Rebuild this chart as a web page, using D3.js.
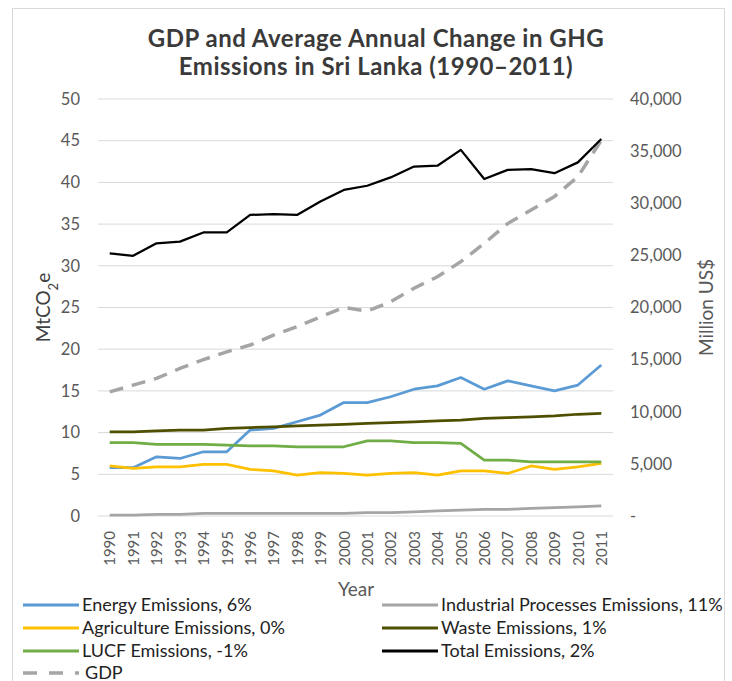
<!DOCTYPE html>
<html lang="en">
<head>
    <meta charset="UTF-8">
    <title>GDP and GHG Emissions in Sri Lanka</title>
    <script src="https://cdnjs.cloudflare.com/ajax/libs/d3/7.8.5/d3.min.js"></script>
    <style>
        body { margin: 0; background: #fff; }
        svg text { font-family: Lato, "Open Sans", sans-serif; }
    </style>
</head>
<body>
    <div id="chart"></div>
    <script>
        // data
        const years = ['1990','1991','1992','1993','1994','1995','1996','1997','1998','1999','2000',
                       '2001','2002','2003','2004','2005','2006','2007','2008','2009','2010','2011'];
        const energy = [5.8,5.8,7.1,6.9,7.7,7.7,10.3,10.5,11.3,12.1,13.6,13.6,14.3,15.2,15.6,16.6,15.2,16.2,15.6,15.0,15.7,18.1];
        const industrial = [0.1,0.1,0.2,0.2,0.3,0.3,0.3,0.3,0.3,0.3,0.3,0.4,0.4,0.5,0.6,0.7,0.8,0.8,0.9,1.0,1.1,1.2];
        const agriculture = [6.0,5.7,5.9,5.9,6.2,6.2,5.6,5.4,4.9,5.2,5.1,4.9,5.1,5.2,4.9,5.4,5.4,5.1,6.0,5.6,5.9,6.3];
        const waste = [10.1,10.1,10.2,10.3,10.3,10.5,10.6,10.7,10.8,10.9,11.0,11.1,11.2,11.3,11.4,11.5,11.7,11.8,11.9,12.0,12.2,12.3];
        const lucf = [8.8,8.8,8.6,8.6,8.6,8.5,8.4,8.4,8.3,8.3,8.3,9.0,9.0,8.8,8.8,8.7,6.7,6.7,6.5,6.5,6.5,6.5];
        const total = [31.5,31.2,32.7,32.9,34.0,34.0,36.1,36.2,36.1,37.7,39.1,39.6,40.6,41.9,42.0,43.9,40.4,41.5,41.6,41.1,42.4,45.2];
        const gdp = [11900,12550,13200,14150,15000,15750,16400,17350,18150,19100,20000,19650,20550,21850,22950,24400,26150,28050,29350,30650,32550,36050];

        const leftTicks = [0,5,10,15,20,25,30,35,40,45,50];
        const rightTicks = [0,5000,10000,15000,20000,25000,30000,35000,40000];

        const series = [
            { name: 'Energy Emissions, 6%', values: energy, color: '#5b9bd5' },
            { name: 'Industrial Processes Emissions, 11%', values: industrial, color: '#a5a5a5' },
            { name: 'Agriculture Emissions, 0%', values: agriculture, color: '#ffc000' },
            { name: 'Waste Emissions, 1%', values: waste, color: '#4f4f00' },
            { name: 'LUCF Emissions, -1%', values: lucf, color: '#70ad47' },
            { name: 'Total Emissions, 2%', values: total, color: '#000000' }
        ];

        const width = 732, height = 681;
        const plot = { left: 98, right: 613, top: 99, bottom: 516 };

        const svg = d3.select('#chart').append('svg')
            .attr('width', width)
            .attr('height', height);

        // outer frame
        svg.append('rect')
            .attr('x', 12.5).attr('y', 8.5)
            .attr('width', 712).attr('height', 690)
            .attr('fill', 'none')
            .attr('stroke', '#d9d9d9');

        const x = d3.scalePoint()
            .domain(years)
            .range([plot.left, plot.right])
            .padding(0.5);

        const y = d3.scaleLinear().domain([0, 50]).range([plot.bottom, plot.top]);
        const y2 = d3.scaleLinear().domain([0, 40000]).range([plot.bottom, plot.top]);

        // gridlines
        svg.append('g')
            .selectAll('line')
            .data(leftTicks)
            .enter().append('line')
            .attr('x1', plot.left).attr('x2', plot.right)
            .attr('y1', d => y(d)).attr('y2', d => y(d))
            .attr('stroke', '#d9d9d9')
            .attr('stroke-width', 1);

        // left axis
        const leftAxis = svg.append('g')
            .attr('transform', `translate(${plot.left - 18},0)`)
            .call(d3.axisLeft(y).tickValues(leftTicks).tickSize(0).tickPadding(0));
        leftAxis.select('.domain').remove();
        leftAxis.selectAll('text')
            .attr('fill', '#595959')
            .attr('font-size', 16.5);

        // right axis
        const rightAxis = svg.append('g')
            .attr('transform', `translate(${plot.right + 17},0)`)
            .call(d3.axisRight(y2).tickValues(rightTicks).tickSize(0).tickPadding(0)
                .tickFormat(d => d === 0 ? '-' : d3.format(',')(d)));
        rightAxis.select('.domain').remove();
        rightAxis.selectAll('text')
            .attr('fill', '#595959')
            .attr('font-size', 16.5);

        // x axis, rotated year labels
        const xAxis = svg.append('g')
            .attr('transform', `translate(0,${plot.bottom + 15})`)
            .call(d3.axisBottom(x).tickSize(0).tickPadding(0));
        xAxis.select('.domain').remove();
        xAxis.selectAll('text')
            .attr('fill', '#595959')
            .attr('font-size', 15)
            .attr('transform', 'rotate(-90)')
            .attr('dy', '0.35em')
            .attr('x', 0).attr('y', 0)
            .style('text-anchor', 'end');

        // axis titles
        svg.append('text')
            .attr('transform', `translate(50,${(plot.top + plot.bottom) / 2}) rotate(-90)`)
            .attr('text-anchor', 'middle')
            .attr('font-size', 19)
            .attr('fill', '#404040')
            .html('MtCO<tspan baseline-shift="sub" font-size="13">2</tspan>e');

        svg.append('text')
            .attr('transform', `translate(713,${(plot.top + plot.bottom) / 2}) rotate(-90)`)
            .attr('text-anchor', 'middle')
            .attr('font-size', 19)
            .attr('fill', '#595959')
            .text('Million US$');

        svg.append('text')
            .attr('x', 356).attr('y', 596)
            .attr('text-anchor', 'middle')
            .attr('font-size', 19)
            .attr('fill', '#595959')
            .text('Year');

        // title
        const title = svg.append('text')
            .attr('text-anchor', 'middle')
            .attr('font-size', 24)
            .attr('font-weight', 'bold')
            .attr('letter-spacing', 0.5)
            .attr('fill', '#3a3a3a');
        title.append('tspan').attr('x', 376).attr('y', 47).text('GDP and Average Annual Change in GHG');
        title.append('tspan').attr('x', 376).attr('y', 75).text('Emissions in Sri Lanka (1990–2011)');

        // lines
        const line = d3.line()
            .x((d, i) => x(years[i]))
            .y(d => y(d));

        const gdpLine = d3.line()
            .x((d, i) => x(years[i]))
            .y(d => y2(d));

        svg.append('path')
            .datum(gdp)
            .attr('d', gdpLine)
            .attr('fill', 'none')
            .attr('stroke', '#a5a5a5')
            .attr('stroke-width', 3.5)
            .attr('stroke-dasharray', '14,9');

        series.forEach(s => {
            svg.append('path')
                .datum(s.values)
                .attr('d', line)
                .attr('fill', 'none')
                .attr('stroke', s.color)
                .attr('stroke-width', s.name.startsWith('Total') ? 2.25 : 2.75)
                .attr('stroke-linejoin', 'round');
        });

        // legend
        const legendItems = [
            { s: series[0], col: 0, row: 0 },
            { s: series[1], col: 1, row: 0 },
            { s: series[2], col: 0, row: 1 },
            { s: series[3], col: 1, row: 1 },
            { s: series[4], col: 0, row: 2 },
            { s: series[5], col: 1, row: 2 }
        ];
        const colX = [23, 382];
        const rowY = [605, 628, 651, 673];

        const legend = svg.append('g');
        legendItems.forEach(item => {
            const g = legend.append('g')
                .attr('transform', `translate(${colX[item.col]},${rowY[item.row]})`);
            g.append('line')
                .attr('x1', 0).attr('x2', 56)
                .attr('stroke', item.s.color)
                .attr('stroke-width', 3);
            g.append('text')
                .attr('x', 59).attr('dy', '0.35em')
                .attr('font-size', 18)
                .attr('fill', '#222')
                .text(item.s.name);
        });
        const gdpLeg = legend.append('g')
            .attr('transform', `translate(${colX[0]},${rowY[3]})`);
        gdpLeg.append('line')
            .attr('x1', 0).attr('x2', 56)
            .attr('stroke', '#a5a5a5')
            .attr('stroke-width', 3.5)
            .attr('stroke-dasharray', '14,12');
        gdpLeg.append('text')
            .attr('x', 62).attr('dy', '0.35em')
            .attr('font-size', 18)
            .attr('fill', '#222')
            .text('GDP');
    </script>
</body>
</html>
